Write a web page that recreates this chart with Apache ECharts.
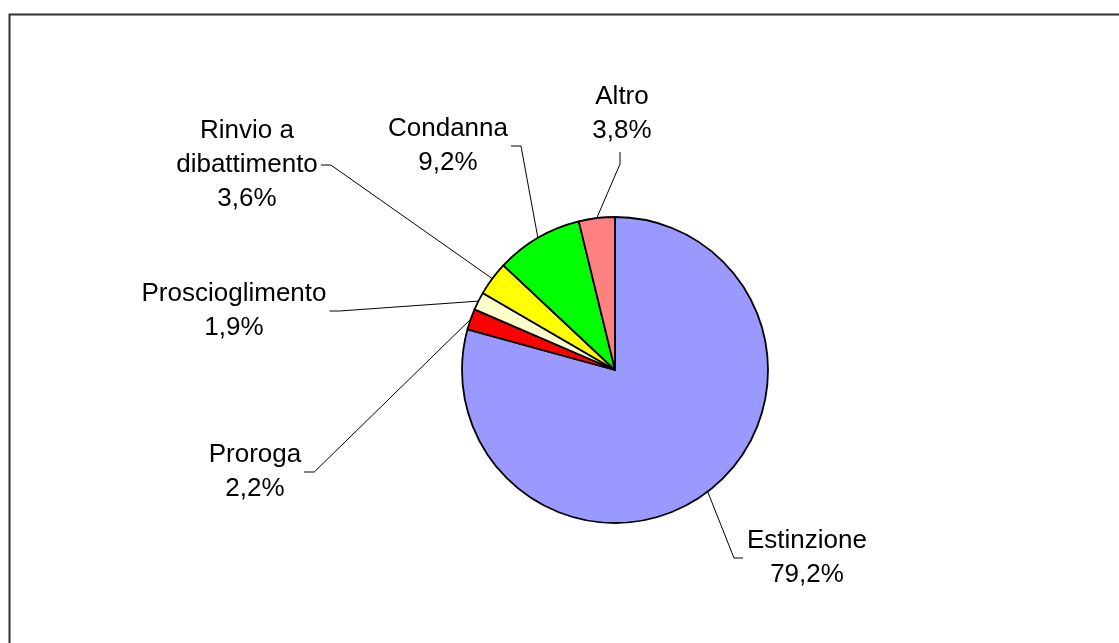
<!DOCTYPE html>
<html>
<head>
<meta charset="utf-8">
<script src="https://cdn.jsdelivr.net/npm/echarts@6/dist/echarts.min.js"></script>
<style>
html,body{margin:0;padding:0;background:#fff;}
#chart{width:1119px;height:643px;}
</style>
</head>
<body>
<div id="chart"></div>
<script>
// ---- data ----
const categories = ['Estinzione', 'Proroga', 'Proscioglimento', 'Rinvio a\ndibattimento', 'Condanna', 'Altro'];
const values = [79.2, 2.2, 1.9, 3.6, 9.2, 3.8];

// ---- styling / layout (not data) ----
const sliceColors = ['#9999FF', '#FF0000', '#FFFFCC', '#FFFF00', '#00FF00', '#FF8080'];
const labelCenters = [[807, 558], [255, 472], [234, 311], [247, 165], [448, 146], [622, 114]];
const guideSide = ['left', 'right', 'right', 'right', 'right', 'bottom'];

const chart = echarts.init(document.getElementById('chart'), null, {renderer: 'canvas'});

function fmt(v) { return v.toFixed(1).replace('.', ',') + '%'; }

const option = {
  animation: false,
  backgroundColor: '#ffffff',
  graphic: [{
    type: 'rect',
    left: 7, top: 12,
    shape: {width: 1300, height: 800},
    style: {fill: 'none', stroke: '#333333', lineWidth: 2},
    silent: true
  }],
  series: [{
    type: 'pie',
    center: [615, 370],
    radius: 153,
    startAngle: 90,
    clockwise: true,
    avoidLabelOverlap: false,
    silent: true,
    emphasis: {disabled: true},
    itemStyle: {borderColor: '#000', borderWidth: 1.8},
    label: {
      show: true,
      position: 'outside',
      color: '#000',
      fontFamily: '"Liberation Sans", Arial, sans-serif',
      fontSize: 26,
      lineHeight: 34,
      align: 'center',
      formatter: function (p) { return p.name + '\n' + fmt(p.value); }
    },
    labelLine: {show: true, length: 20, length2: 10, lineStyle: {color: '#000', width: 1}},
    labelLayout: function (params) {
      const i = params.dataIndex;
      const c = labelCenters[i];
      const w = params.labelRect.width, h = params.labelRect.height;
      const left = c[0] - w / 2, right = c[0] + w / 2, bottom = c[1] + h / 2;
      let start = params.labelLinePoints ? params.labelLinePoints[0] : null;
      if (!start) {
        let sum = 0; values.forEach(v => sum += v);
        let acc = 0; for (let k = 0; k < i; k++) acc += values[k];
        const mid = (acc + values[i] / 2) / sum * Math.PI * 2;
        start = [615 + Math.sin(mid) * 153, 370 - Math.cos(mid) * 153];
      }
      let end, bend;
      if (guideSide[i] === 'left') { end = [left - 4, c[1]]; bend = [end[0] - 9, end[1]]; }
      else if (guideSide[i] === 'right') { end = [right + 3, c[1]]; bend = [end[0] + 10, end[1]]; }
      else { end = [c[0] - 2, bottom + 4]; bend = [end[0], end[1] + 12]; }
      return {
        x: c[0], y: c[1], align: 'center', verticalAlign: 'middle',
        labelLinePoints: [start, bend, end]
      };
    },
    data: categories.map((n, i) => ({name: n, value: values[i], itemStyle: {color: sliceColors[i]}}))
  }]
};
chart.setOption(option);
</script>
</body>
</html>
